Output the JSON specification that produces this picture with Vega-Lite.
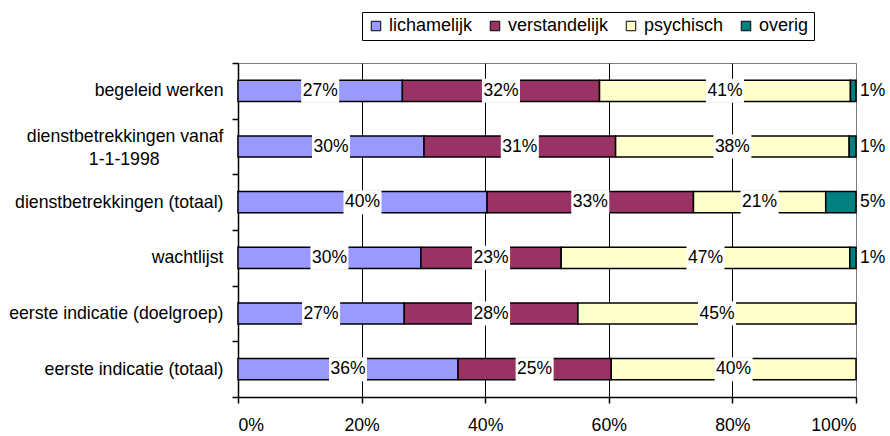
{
  "$schema": "https://vega.github.io/schema/vega-lite/v6.json",
  "width": 618,
  "height": 334,
  "autosize": "none",
  "padding": {"left": 238, "top": 63, "right": 34, "bottom": 39},
  "background": "white",
  "config": {
    "view": {"stroke": "#808080", "strokeWidth": 1},
    "font": "Liberation Sans",
    "legend": {
      "orient": "none", "legendX": 124, "legendY": -51, "direction": "horizontal",
      "symbolType": "square", "symbolSize": 90, "symbolStrokeColor": "black", "symbolStrokeWidth": 1,
      "labelFontSize": 18, "labelColor": "black", "labelOffset": 4, "columnPadding": 13,
      "strokeColor": "black", "fillColor": "white", "padding": 5, "labelFont": "Liberation Sans"
    }
  },
  "data": {"values": [
    {"cat": "begeleid werken", "grp": "lichamelijk", "k": 1, "v": 0.266},
    {"cat": "begeleid werken", "grp": "verstandelijk", "k": 2, "v": 0.319},
    {"cat": "begeleid werken", "grp": "psychisch", "k": 3, "v": 0.406},
    {"cat": "begeleid werken", "grp": "overig", "k": 4, "v": 0.009},
    {"cat": "dienstbetrekkingen vanaf 1-1-1998", "grp": "lichamelijk", "k": 1, "v": 0.301},
    {"cat": "dienstbetrekkingen vanaf 1-1-1998", "grp": "verstandelijk", "k": 2, "v": 0.310},
    {"cat": "dienstbetrekkingen vanaf 1-1-1998", "grp": "psychisch", "k": 3, "v": 0.378},
    {"cat": "dienstbetrekkingen vanaf 1-1-1998", "grp": "overig", "k": 4, "v": 0.011},
    {"cat": "dienstbetrekkingen (totaal)", "grp": "lichamelijk", "k": 1, "v": 0.403},
    {"cat": "dienstbetrekkingen (totaal)", "grp": "verstandelijk", "k": 2, "v": 0.334},
    {"cat": "dienstbetrekkingen (totaal)", "grp": "psychisch", "k": 3, "v": 0.214},
    {"cat": "dienstbetrekkingen (totaal)", "grp": "overig", "k": 4, "v": 0.049},
    {"cat": "wachtlijst", "grp": "lichamelijk", "k": 1, "v": 0.296},
    {"cat": "wachtlijst", "grp": "verstandelijk", "k": 2, "v": 0.227},
    {"cat": "wachtlijst", "grp": "psychisch", "k": 3, "v": 0.467},
    {"cat": "wachtlijst", "grp": "overig", "k": 4, "v": 0.010},
    {"cat": "eerste indicatie (doelgroep)", "grp": "lichamelijk", "k": 1, "v": 0.269},
    {"cat": "eerste indicatie (doelgroep)", "grp": "verstandelijk", "k": 2, "v": 0.281},
    {"cat": "eerste indicatie (doelgroep)", "grp": "psychisch", "k": 3, "v": 0.450},
    {"cat": "eerste indicatie (totaal)", "grp": "lichamelijk", "k": 1, "v": 0.356},
    {"cat": "eerste indicatie (totaal)", "grp": "verstandelijk", "k": 2, "v": 0.248},
    {"cat": "eerste indicatie (totaal)", "grp": "psychisch", "k": 3, "v": 0.396}
  ]},
  "encoding": {
    "y": {
      "field": "cat", "type": "nominal", "sort": null,
      "scale": {"paddingInner": 0, "paddingOuter": 0},
      "axis": {
        "title": null, "domainColor": "black", "domainWidth": 1.5, "tickColor": "black", "tickWidth": 1.5,
        "tickBand": "extent", "tickSize": 6, "labelFontSize": 17.7, "labelColor": "black", "labelPadding": 9,
        "labelLimit": 400, "labelLineHeight": 23, "grid": false,
        "labelOffset": {"condition": {"test": "datum.value == 'dienstbetrekkingen vanaf 1-1-1998'", "value": -10}, "value": 0},
        "labelExpr": "datum.value == 'dienstbetrekkingen vanaf 1-1-1998' ? ['dienstbetrekkingen vanaf', '1-1-1998\u00a0\u00a0\u00a0\u00a0\u00a0\u00a0\u00a0\u00a0\u00a0\u00a0\u00a0\u00a0\u00a0\u200b'] : datum.label"
      }
    }
  },
  "layer": [
    {
      "mark": {"type": "bar", "stroke": "black", "strokeWidth": 1.5, "height": {"band": 0.38}},
      "encoding": {
        "x": {
          "field": "v", "type": "quantitative", "stack": "zero",
          "scale": {"domain": [0, 1], "nice": false},
          "axis": {
            "title": null, "format": ".0%", "values": [0, 0.2, 0.4, 0.6, 0.8, 1],
            "grid": true, "gridColor": {"condition": {"test": "datum.value == 1", "value": "#808080"}, "value": "black"},
            "gridWidth": 1, "domainColor": "black", "domainWidth": 1.5, "tickColor": "black", "tickWidth": 1.5,
            "tickSize": 6, "labelFontSize": 17.7, "labelColor": "black", "labelPadding": 13
          }
        },
        "color": {
          "field": "grp", "type": "nominal", "title": null,
          "scale": {"domain": ["lichamelijk", "verstandelijk", "psychisch", "overig"],
                    "range": ["#9999FF", "#993366", "#FFFFCC", "#008080"]}
        },
        "order": {"field": "k"}
      }
    },
    {
      "transform": [{"filter": "datum.grp != 'overig'"}],
      "mark": {"type": "point", "shape": "M-1,-0.63L1,-0.63L1,0.63L-1,0.63Z", "filled": true, "fill": "white", "opacity": 1, "size": 1444},
      "encoding": {
        "x": {"field": "v", "type": "quantitative", "stack": "zero", "bandPosition": 0.5},
        "detail": {"field": "grp"},
        "order": {"field": "k"}
      }
    },
    {
      "transform": [{"filter": "datum.grp != 'overig'"}],
      "mark": {"type": "text", "fontSize": 17.5, "color": "black", "baseline": "middle"},
      "encoding": {
        "x": {"field": "v", "type": "quantitative", "stack": "zero", "bandPosition": 0.5},
        "detail": {"field": "grp"},
        "order": {"field": "k"},
        "text": {"field": "v", "format": ".0%"}
      }
    },
    {
      "transform": [{"filter": "datum.grp == 'overig'"}],
      "mark": {"type": "text", "fontSize": 17.5, "color": "black", "baseline": "middle", "align": "left", "dx": 4},
      "encoding": {
        "x": {"datum": 1, "type": "quantitative"},
        "text": {"field": "v", "format": ".0%"}
      }
    }
  ]
}
